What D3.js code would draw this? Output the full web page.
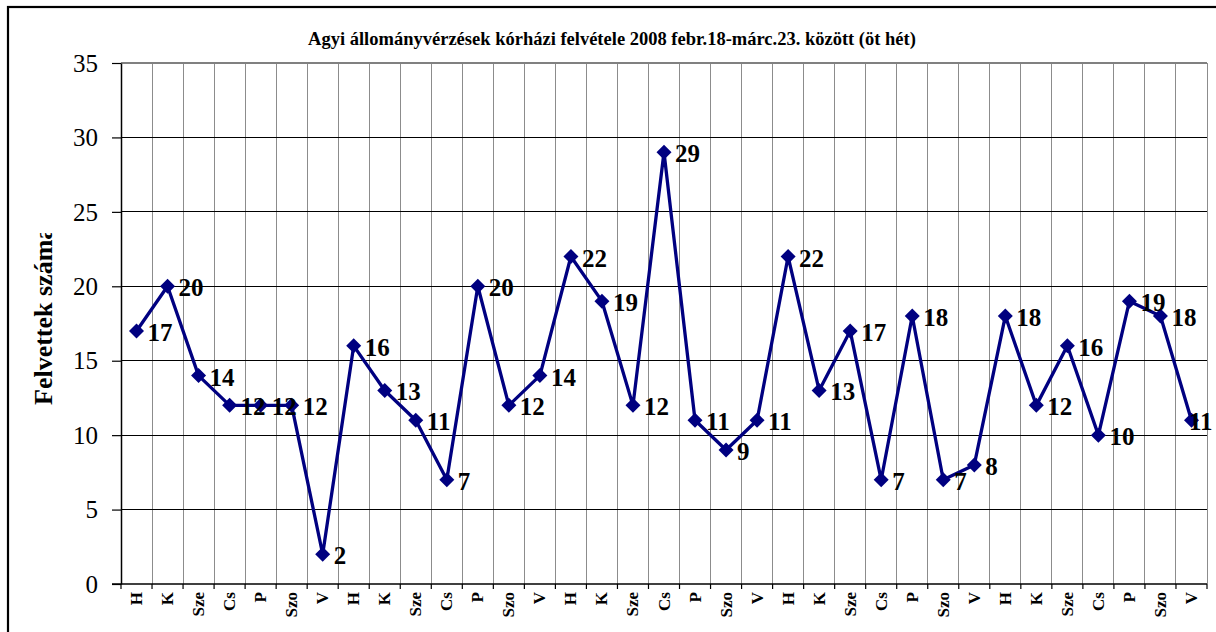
<!DOCTYPE html>
<html><head><meta charset="utf-8">
<script src="https://cdn.jsdelivr.net/npm/d3@7"></script>
<style>body{margin:0;background:#fff;overflow:hidden}svg{display:block}
svg text{font-family:"Liberation Serif","Times New Roman",Times,serif !important;}
</style>
</head><body>
<svg id="c" width="1216" height="632"></svg>
<script>
const days = ["H","K","Sze","Cs","P","Szo","V"];
const categories = [].concat(days, days, days, days, days);
const values = [17,20,14,12,12,12,2, 16,13,11,7,20,12,14, 22,19,12,29,11,9,11, 22,13,17,7,18,7,8, 18,12,16,10,19,18,11];
const yTicks = [0,5,10,15,20,25,30,35];
const title = "Agyi állományvérzések kórházi felvétele 2008 febr.18-márc.23. között (öt hét)";
const yTitle = "Felvettek száma";

const svg = d3.select("#c");
const L = 121, R = 1207, T = 63, B = 584;

// outer frame
svg.append("rect").attr("x",8).attr("y",7).attr("width",1300).attr("height",700)
  .attr("fill","#fff").attr("stroke","#000").attr("stroke-width",2.2);

const x = d3.scaleBand().domain(d3.range(categories.length)).range([L, R]).paddingInner(0).paddingOuter(0);
const y = d3.scaleLinear().domain([0,35]).range([B, T]);

// vertical gridlines (category boundaries)
svg.append("g").selectAll("line").data(d3.range(1, categories.length + 1)).join("line")
  .attr("x1", i => i === categories.length ? R : x(i)).attr("x2", i => i === categories.length ? R : x(i))
  .attr("y1", T).attr("y2", B).attr("stroke","#8c8c8c").attr("stroke-width",1).attr("shape-rendering","crispEdges");

// horizontal gridlines
svg.append("g").selectAll("line").data(yTicks.filter(v => v > 0 && v < 35)).join("line")
  .attr("x1", L).attr("x2", R).attr("y1", d => y(d)).attr("y2", d => y(d))
  .attr("stroke","#000").attr("stroke-width",1).attr("shape-rendering","crispEdges");
// top border
svg.append("line").attr("x1",L).attr("x2",R).attr("y1",y(35)).attr("y2",y(35))
  .attr("stroke","#808080").attr("stroke-width",1.5).attr("shape-rendering","crispEdges");

// Y axis
const yAxis = svg.append("g").attr("transform",`translate(${L},0)`)
  .call(d3.axisLeft(y).tickValues(yTicks).tickSize(9).tickPadding(14).tickSizeOuter(0));
yAxis.attr("font-family", null);
yAxis.select(".domain").attr("stroke","#000").attr("stroke-width",1.5);
yAxis.selectAll(".tick line").attr("stroke","#000").attr("stroke-width",1.2);
yAxis.selectAll("text").attr("font-size",25).attr("fill","#000").attr("dy","0.33em");

// X axis
svg.append("line").attr("x1",L - 9).attr("x2",R).attr("y1",B).attr("y2",B).attr("stroke","#000").attr("stroke-width",1.5);
svg.append("g").selectAll("line").data(d3.range(0, categories.length + 1)).join("line")
  .attr("x1", i => i === categories.length ? R : x(i)).attr("x2", i => i === categories.length ? R : x(i))
  .attr("y1", B).attr("y2", B + 5).attr("stroke","#000").attr("stroke-width",1.2);
svg.append("g").selectAll("text").data(categories).join("text")
  .attr("transform", (d,i) => `translate(${x(i) + x.bandwidth()/2 + 5.5},592) rotate(-90)`)
  .attr("text-anchor","end").attr("font-weight","bold").attr("font-size",17)
  .attr("fill","#000").text(d => d);

// title
svg.append("text").attr("x",612).attr("y",45).attr("text-anchor","middle")
  .attr("font-weight","bold").attr("font-size",18.5).attr("fill","#000").text(title);

// y title (clipped like the original)
svg.append("clipPath").attr("id","yt").append("rect").attr("x",0).attr("y",233).attr("width",100).attr("height",300);
svg.append("g").attr("clip-path","url(#yt)").append("text")
  .attr("transform","translate(52,405) rotate(-90)").attr("text-anchor","start")
  .attr("font-weight","bold").attr("font-size",26).attr("fill","#000").text(yTitle);

// line
const cx = i => x(i) + x.bandwidth()/2;
svg.append("path").datum(values)
  .attr("d", d3.line().x((d,i) => cx(i)).y(d => y(d)))
  .attr("fill","none").attr("stroke","#000080").attr("stroke-width",3.3).attr("stroke-linejoin","round");

// markers
svg.append("g").selectAll("path").data(values).join("path")
  .attr("transform",(d,i) => `translate(${cx(i)},${y(d)})`)
  .attr("d","M0,-7.5L7.5,0L0,7.5L-7.5,0Z").attr("fill","#000080");

// data labels
svg.append("g").selectAll("text").data(values).join("text")
  .attr("x",(d,i) => Math.min(cx(i) + 11, 1189)).attr("y", d => y(d) + 10)
  .attr("font-weight","bold").attr("font-size",25).attr("fill","#000").text(d => d);
</script>
</body></html>
